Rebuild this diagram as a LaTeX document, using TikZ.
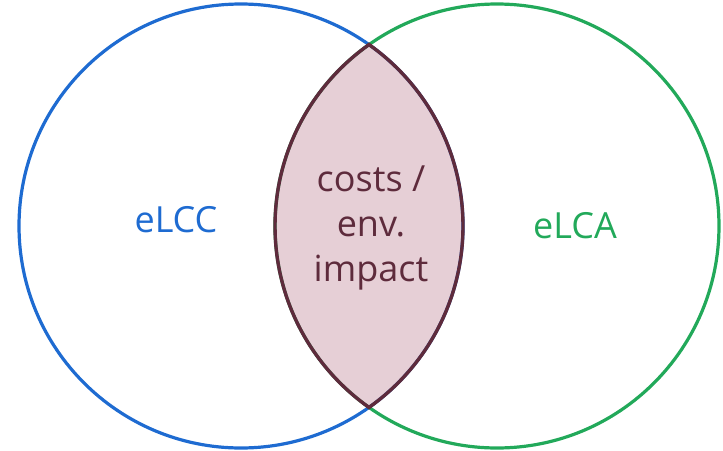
\documentclass[tikz,border=0pt]{standalone}
\usepackage{fontspec}
\setmainfont{Open Sans}
\definecolor{cblue}{HTML}{1E6BD1}
\definecolor{cgreen}{HTML}{22A95A}
\definecolor{lensfill}{HTML}{E6CFD6}
\definecolor{lensline}{HTML}{5E2B3C}
\begin{document}
\begin{tikzpicture}[x=1pt,y=-1pt,
  lbl/.style={font=\fontsize{36}{45}\selectfont, align=center, inner sep=0pt}]
\useasboundingbox (0,0) rectangle (723,450);
\coordinate (cl) at (241,226);
\coordinate (cr) at (497,226);
\begin{scope}
  \clip (cl) circle (222);
  \fill[lensfill] (cr) circle (222);
\end{scope}
\draw[cblue, line width=3.2pt] (cl) circle (222);
\draw[cgreen, line width=3.2pt] (cr) circle (222);
\begin{scope}
  \clip (cl) circle (223.6);
  \draw[lensline, line width=3.4pt] (cr) circle (222);
\end{scope}
\begin{scope}
  \clip (cr) circle (223.6);
  \draw[lensline, line width=3.4pt] (cl) circle (222);
\end{scope}
\node[lbl, text=cblue] (elcc) at (176,220) {eLCC};
\node[lbl, text=cgreen] (elca) at (575,226) {eLCA};
\node[lbl, text=lensline] (mid) at (371,228) {costs /\\env.\\impact};
\end{tikzpicture}
\end{document}
